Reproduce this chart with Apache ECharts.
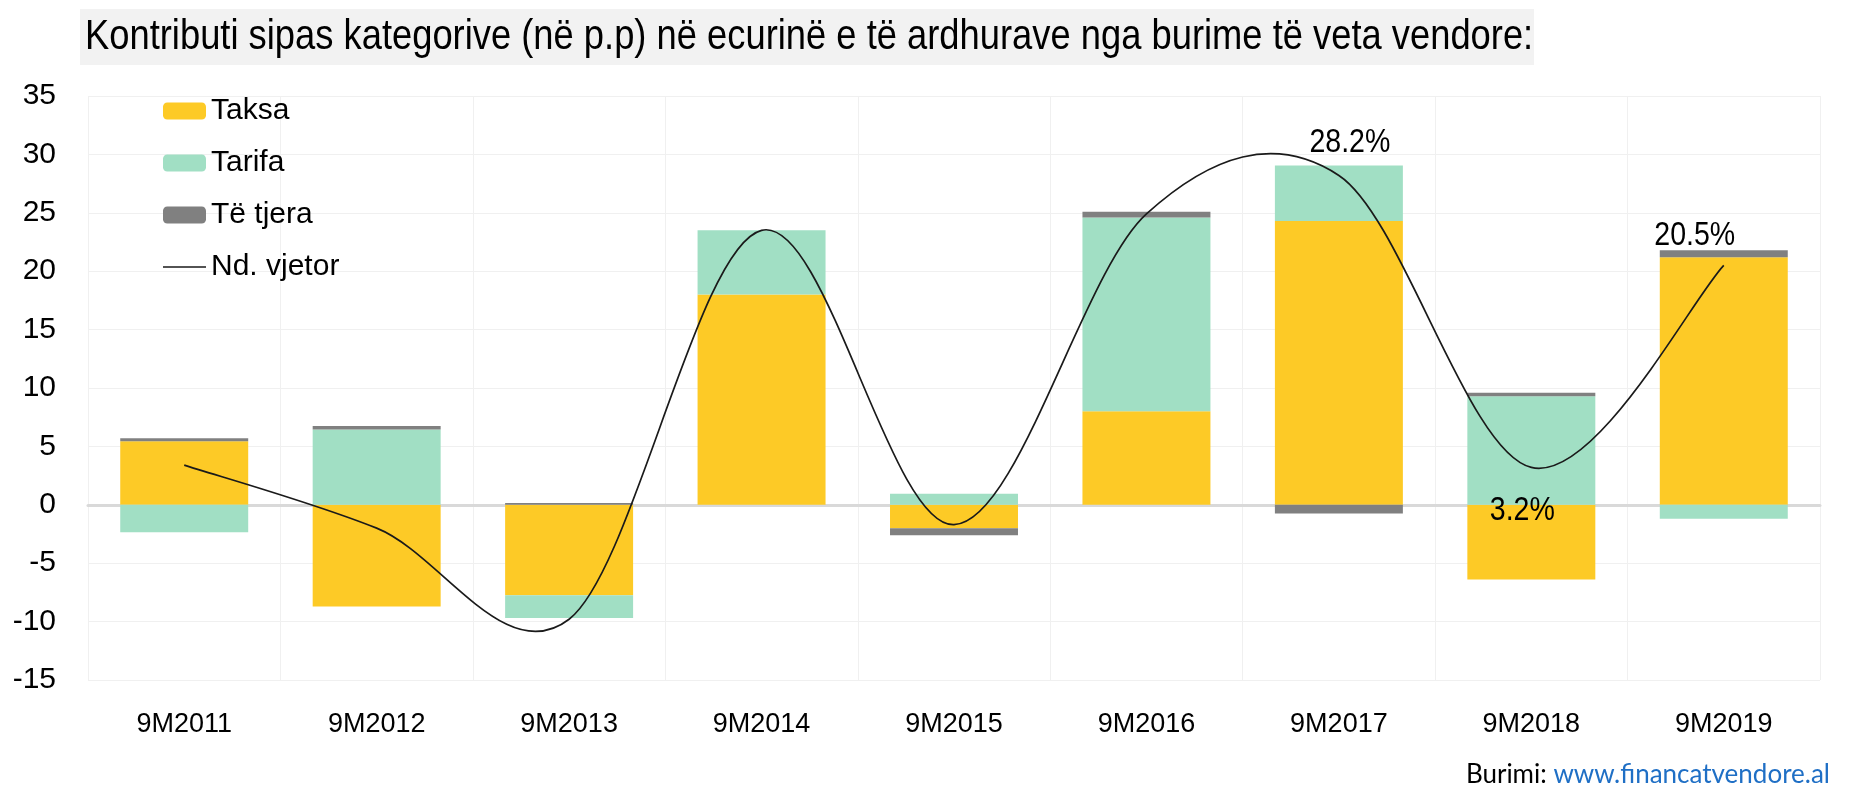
<!DOCTYPE html>
<html><head><meta charset="utf-8">
<script src="https://cdn.jsdelivr.net/npm/echarts@6/dist/echarts.min.js"></script>
<style>html,body{margin:0;padding:0;background:#fff}#c{width:1854px;height:787px}</style>
</head><body><div id="c"></div>
<script>
const categories = ['9M2011','9M2012','9M2013','9M2014','9M2015','9M2016','9M2017','9M2018','9M2019'];
const taksa   = [5.45, -8.7, -7.75, 18.0, -2.0, 8.0, 24.3, -6.4, 21.2];
const tarifa  = [-2.35, 6.45, -1.95, 5.5, 0.95, 16.6, 4.75, 9.3, -1.2];
const teTjera = [0.25, 0.3, 0.15, 0.0, -0.6, 0.5, -0.75, 0.3, 0.6];
const ndVjetor = [3.4, -2.0, -9.8, 23.5, -1.7, 24.9, 28.2, 3.2, 20.5];
const yTicks = [-15, -10, -5, 0, 5, 10, 15, 20, 25, 30, 35];
const labelled = {6: [11, -33], 7: [-9, 43], 8: [-29, -30]};

const SANS = '"Liberation Sans",Arial,sans-serif';
const chart = echarts.init(document.getElementById('c'));

function renderLine(params, api) {
  const i = params.dataIndex;
  const children = [];
  if (i === 0) {
    const pts = ndVjetor.map((v, k) => api.coord([k, v]));
    const n = pts.length;
    let d = 'M' + pts[0][0] + ',' + pts[0][1];
    for (let k = 0; k < n - 1; k++) {
      const p0 = pts[Math.max(k - 1, 0)], p1 = pts[k], p2 = pts[k + 1], p3 = pts[Math.min(k + 2, n - 1)];
      const c1 = [p1[0] + (p2[0] - p0[0]) / 6, p1[1] + (p2[1] - p0[1]) / 6];
      const c2 = [p2[0] - (p3[0] - p1[0]) / 6, p2[1] - (p3[1] - p1[1]) / 6];
      d += ' C' + c1[0] + ',' + c1[1] + ' ' + c2[0] + ',' + c2[1] + ' ' + p2[0] + ',' + p2[1];
    }
    children.push({type:'path', shape:{pathData:d}, style:{fill:'none', stroke:'#1a1a1a', lineWidth:1.7}});
  }
  if (labelled[i]) {
    const p = api.coord([i, ndVjetor[i]]);
    children.push({type:'text', x:p[0] + labelled[i][0], y:p[1] + labelled[i][1], scaleX:0.84,
      style:{text: ndVjetor[i].toFixed(1) + '%', font:'34px ' + SANS, fill:'#000', align:'center', verticalAlign:'middle'}});
  }
  return {type:'group', children};
}

chart.setOption({
  animation: false,
  backgroundColor: '#fff',
  graphic: [
    {type:'rect', shape:{x:80, y:9, width:1454, height:56}, style:{fill:'#f2f2f2'}},
    {type:'text', x:85, y:37, scaleX:0.845, style:{text:'Kontributi sipas kategorive (në p.p) në ecurinë e të ardhurave nga burime të veta vendore:', font:'43px '+SANS, fill:'#000', verticalAlign:'middle'}},
    {type:'text', right:24, top:762, style:{rich:{a:{fill:'#000', font:'26px Lato'}, b:{fill:'#1f6fc5', font:'26px Lato'}}, text:'{a|Burimi: }{b|www.financatvendore.al}'}}
  ],
  legend: {
    orient:'vertical', left:158, top:90, itemWidth:43, itemHeight:17, itemGap:20,
    textStyle:{fontFamily:SANS, fontSize:30, color:'#000', lineHeight:32},
    data:['Taksa','Tarifa','Të tjera',{name:'Nd. vjetor', icon:'path://M0,0L43,0L43,1.6L0,1.6Z'}]
  },
  grid: {left:88, right:34, top:96, bottom:107},
  xAxis: {
    type:'category', data:categories,
    axisLine:{onZero:true, lineStyle:{color:'#d9d9d9', width:3}},
    axisTick:{show:false},
    axisLabel:{fontFamily:SANS, fontSize:27, color:'#000', margin:31},
    splitLine:{show:true, lineStyle:{color:'#f0f0f0', width:1}}
  },
  yAxis: {
    type:'value', min:yTicks[0], max:yTicks[yTicks.length-1], interval:5,
    axisLine:{show:false}, axisTick:{show:false},
    axisLabel:{fontFamily:SANS, fontSize:30, color:'#000', margin:32},
    splitLine:{lineStyle:{color:'#f0f0f0', width:1}}
  },
  series: [
    {name:'Taksa', type:'bar', stack:'a', data:taksa, barWidth:'66.5%', itemStyle:{color:'#fdca26'}},
    {name:'Tarifa', type:'bar', stack:'a', data:tarifa, itemStyle:{color:'#a1dfc4'}},
    {name:'Të tjera', type:'bar', stack:'a', data:teTjera, itemStyle:{color:'#808080'}},
    {name:'Nd. vjetor', type:'custom', renderItem:renderLine, itemStyle:{color:'#1a1a1a'}, z:5,
     data: ndVjetor.map((v, i) => [i, v]), encode:{x:0, y:1}}
  ]
});
</script></body></html>
